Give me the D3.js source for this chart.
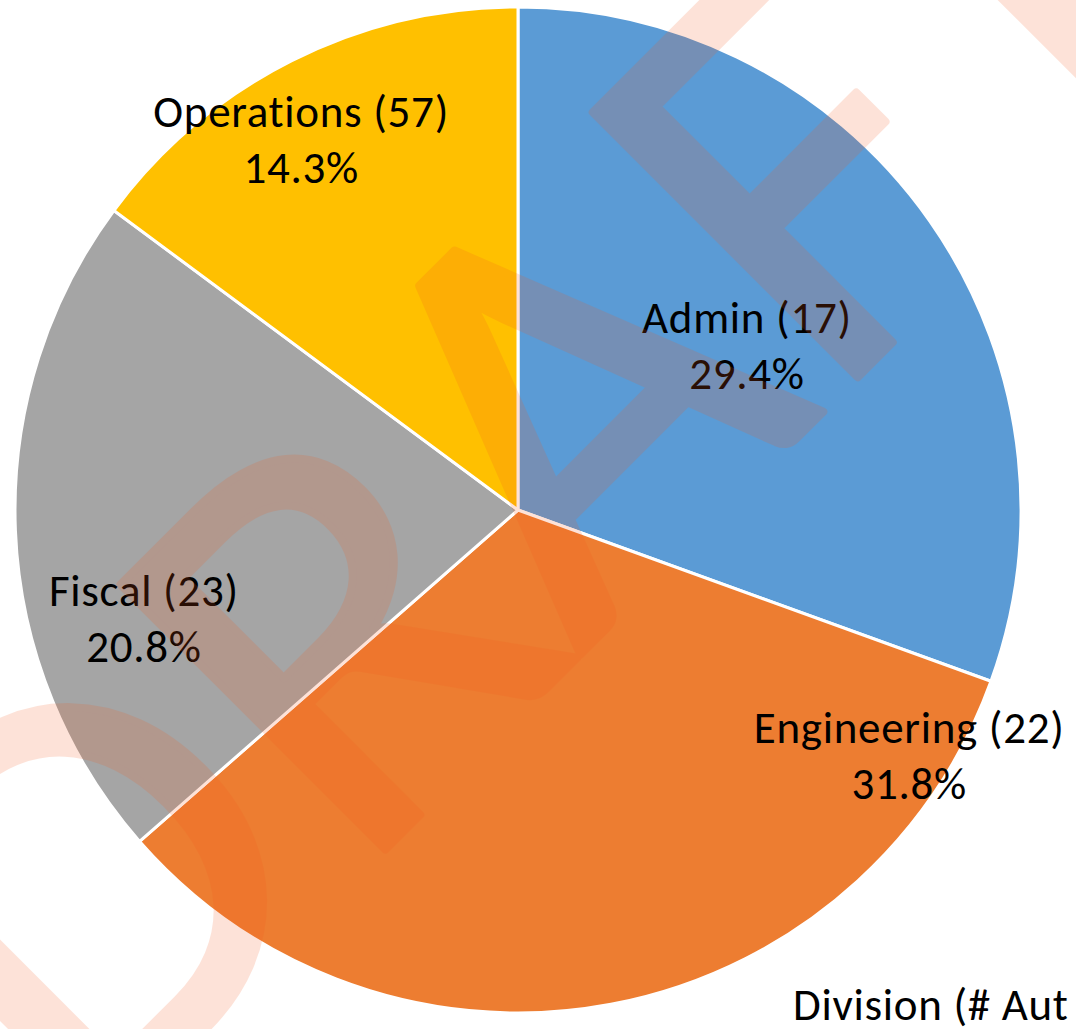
<!DOCTYPE html>
<html>
<head>
<meta charset="utf-8">
<script src="https://cdn.jsdelivr.net/npm/d3@7"></script>
<style>
  body { margin: 0; background: #fff; }
  svg { display: block; }
  text { font-variant-ligatures: none; }
</style>
</head>
<body>
<script>
// Chart data
const divisions = ['Admin', 'Engineering', 'Fiscal', 'Operations'];
const counts = [17, 22, 23, 57];
const percents = [29.4, 31.8, 20.8, 14.3];
const colors = ['#5B9BD5', '#ED7D31', '#A5A5A5', '#FFC000'];
const legendTitle = 'Division (# Aut';

// Where each data label sits (degrees clockwise from 12 o'clock, fraction of radius)
const labelAngles = [54.5, 122.2, 253.7, 329.6];
const labelRadii = [0.559, 0.919, 0.775, 0.852];

const W = 1076, H = 1029;
const cx = 518, cy = 510, radius = 503;
const font = 'Carlito, Calibri, Lato, sans-serif';

const svg = d3.select('body').append('svg')
  .attr('width', W)
  .attr('height', H);

const data = divisions.map((name, i) => ({ name, count: counts[i], pct: percents[i], color: colors[i] }));

const pie = d3.pie().sort(null).value(d => d.pct);
const arc = d3.arc().innerRadius(0).outerRadius(radius);

const g = svg.append('g').attr('transform', 'translate(' + cx + ',' + cy + ')');

// Slices
g.selectAll('path.slice')
  .data(pie(data))
  .enter().append('path')
  .attr('class', 'slice')
  .attr('d', arc)
  .attr('fill', d => d.data.color)
  .attr('stroke', '#fff')
  .attr('stroke-width', 3)
  .attr('stroke-linejoin', 'round');

// Data labels: name (count) on first line, percent on second
const labels = g.selectAll('text.label')
  .data(data)
  .enter().append('text')
  .attr('class', 'label')
  .attr('transform', (d, i) => {
    const p = d3.pointRadial(labelAngles[i] * Math.PI / 180, labelRadii[i] * radius);
    return 'translate(' + p[0] + ',' + p[1] + ')';
  })
  .attr('text-anchor', 'middle')
  .style('font-family', font)
  .style('font-size', '45px')
  .style('letter-spacing', '0.7px')
  .attr('fill', '#000');

labels.append('tspan')
  .attr('x', 0)
  .attr('dy', '-0.3em')
  .text(d => d.name + ' (' + d.count + ')');

labels.append('tspan')
  .attr('x', 0)
  .attr('dy', '1.25em')
  .text(d => d.pct.toFixed(1) + '%');

// Legend title, cut off at the right edge
svg.append('text')
  .attr('x', 793)
  .attr('y', 1020)
  .style('font-family', font)
  .style('font-size', '45px')
  .style('letter-spacing', '0.7px')
  .attr('fill', '#000')
  .text(legendTitle);

// DRAFT watermark on top
const wm = svg.append('g')
  .attr('opacity', 0.17)
  .attr('transform', 'translate(660,575) rotate(-45)');

wm.append('text')
  .attr('x', 0)
  .attr('y', 0)
  .attr('text-anchor', 'middle')
  .attr('textLength', 1650)
  .attr('lengthAdjust', 'spacingAndGlyphs')
  .style('font-family', 'Lato, sans-serif')
  .style('font-size', '523px')
  .attr('fill', 'rgb(244,90,31)')
  .attr('stroke', 'rgb(244,90,31)')
  .attr('stroke-width', 8)
  .attr('stroke-linejoin', 'round')
  .text('DRAFT');
</script>
</body>
</html>
